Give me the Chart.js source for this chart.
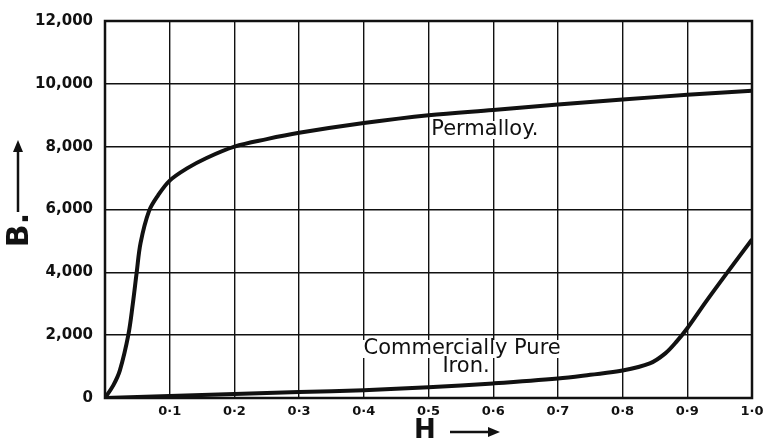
<!DOCTYPE html>
<html>
<head>
<meta charset="utf-8">
<script src="https://cdn.jsdelivr.net/npm/chart.js@4/dist/chart.umd.min.js"></script>
<style>
    html, body { margin: 0; padding: 0; background: #fff; }
    #wrap { width: 770px; height: 443px; }
</style>
</head>
<body>
<div id="wrap"><canvas id="bhChart" width="770" height="443"></canvas></div>
<script>
// magnetising force H and flux density B
const permalloyH = [0, 0.013, 0.023, 0.036, 0.043, 0.049, 0.055, 0.068, 0.082, 0.1, 0.126, 0.157, 0.2, 0.25, 0.3, 0.4, 0.5, 0.6, 0.7, 0.8, 0.9, 1.0];
const permalloyB = [0, 410, 880, 2000, 3000, 4000, 4940, 5950, 6450, 6920, 7300, 7640, 8000, 8240, 8440, 8750, 9000, 9170, 9340, 9500, 9650, 9780];

const ironH = [0, 0.1, 0.2, 0.3, 0.4, 0.5, 0.6, 0.7, 0.75, 0.8, 0.842, 0.866, 0.884, 0.9, 0.93, 0.962, 1.0];
const ironB = [0, 60, 125, 190, 250, 340, 465, 620, 740, 875, 1100, 1420, 1810, 2220, 3100, 4000, 5050];

const yTicks = [0, 2000, 4000, 6000, 8000, 10000, 12000];
const xTicks = [0, 0.1, 0.2, 0.3, 0.4, 0.5, 0.6, 0.7, 0.8, 0.9, 1.0];

// curve names, anchored in data units
const curveLabels = [
    { text: 'Permalloy.', h: 0.587, b: 8530 },
    { text: 'Commercially Pure', h: 0.552, b: 1560 },
    { text: 'Iron.', h: 0.558, b: 1000 }
];

const INK = '#111';

function toPoints(xs, ys) {
    return xs.map((x, i) => ({ x: x, y: ys[i] }));
}

function arrow(ctx, x1, y1, x2, y2) {
    const a = Math.atan2(y2 - y1, x2 - x1);
    ctx.beginPath();
    ctx.moveTo(x1, y1);
    ctx.lineTo(x2 - 8 * Math.cos(a), y2 - 8 * Math.sin(a));
    ctx.lineWidth = 2.5;
    ctx.stroke();
    ctx.beginPath();
    ctx.moveTo(x2, y2);
    ctx.lineTo(x2 - 12 * Math.cos(a) + 5 * Math.sin(a), y2 - 12 * Math.sin(a) - 5 * Math.cos(a));
    ctx.lineTo(x2 - 12 * Math.cos(a) - 5 * Math.sin(a), y2 - 12 * Math.sin(a) + 5 * Math.cos(a));
    ctx.closePath();
    ctx.fill();
}

const decorations = {
    id: 'decorations',
    afterDraw(chart) {
        const ctx = chart.ctx;
        const area = chart.chartArea;
        const xs = chart.scales.x;
        const ys = chart.scales.y;
        ctx.save();
        ctx.strokeStyle = INK;
        ctx.fillStyle = INK;

        // heavy frame
        ctx.lineWidth = 2.5;
        ctx.strokeRect(area.left, area.top, area.right - area.left, area.bottom - area.top);

        ctx.textAlign = 'center';
        ctx.textBaseline = 'middle';
        ctx.font = '21px "DejaVu Sans"';
        curveLabels.forEach(lbl => {
            const cx = xs.getPixelForValue(lbl.h);
            const cy = ys.getPixelForValue(lbl.b);
            const w = ctx.measureText(lbl.text).width;
            ctx.fillStyle = '#fff';
            ctx.fillRect(cx - w / 2 - 1, cy - 9, w + 2, 18);
            ctx.fillStyle = INK;
            ctx.fillText(lbl.text, cx, cy);
        });

        // axis names
        ctx.font = 'bold 26px "DejaVu Sans"';
        ctx.fillText('H', 425, 431);
        arrow(ctx, 450, 432, 500, 432);

        ctx.save();
        ctx.translate(20, 230);
        ctx.rotate(-Math.PI / 2);
        ctx.font = 'bold 30px "DejaVu Sans"';
        ctx.fillText('B.', 0, 0);
        ctx.restore();
        arrow(ctx, 18, 212, 18, 140);

        ctx.restore();
    }
};

const ctx = document.getElementById('bhChart');

new Chart(ctx, {
    type: 'line',
    data: {
        datasets: [
            {
                label: 'Permalloy',
                data: toPoints(permalloyH, permalloyB),
                borderColor: INK,
                borderWidth: 4,
                pointRadius: 0,
                tension: 0.35
            },
            {
                label: 'Commercially Pure Iron',
                data: toPoints(ironH, ironB),
                borderColor: INK,
                borderWidth: 4,
                pointRadius: 0,
                tension: 0.35
            }
        ]
    },
    options: {
        responsive: false,
        animation: false,
        layout: { padding: { top: 13, right: 18, left: 0, bottom: 0 } },
        plugins: {
            legend: { display: false },
            tooltip: { enabled: false }
        },
        scales: {
            x: {
                type: 'linear',
                min: 0,
                max: 1,
                afterBuildTicks: scale => { scale.ticks = xTicks.map(v => ({ value: v })); },
                afterFit: scale => { scale.height = 45; },
                grid: { color: INK, lineWidth: 1.4, drawTicks: false },
                border: { display: false },
                ticks: {
                    color: INK,
                    padding: 6,
                    maxRotation: 0,
                    font: { family: 'DejaVu Sans', size: 13, weight: 'bold' },
                    callback: v => v === 0 ? '' : v.toFixed(1).replace('.', '·')
                }
            },
            y: {
                min: 0,
                max: 12000,
                afterBuildTicks: scale => { scale.ticks = yTicks.map(v => ({ value: v })); },
                afterFit: scale => { scale.width = 105; },
                grid: { color: INK, lineWidth: 1.4, drawTicks: false },
                border: { display: false },
                ticks: {
                    color: INK,
                    padding: 12,
                    font: { family: 'DejaVu Sans', size: 15, weight: 'bold' },
                    callback: v => v.toLocaleString('en-US')
                }
            }
        }
    },
    plugins: [decorations]
});
</script>
</body>
</html>
